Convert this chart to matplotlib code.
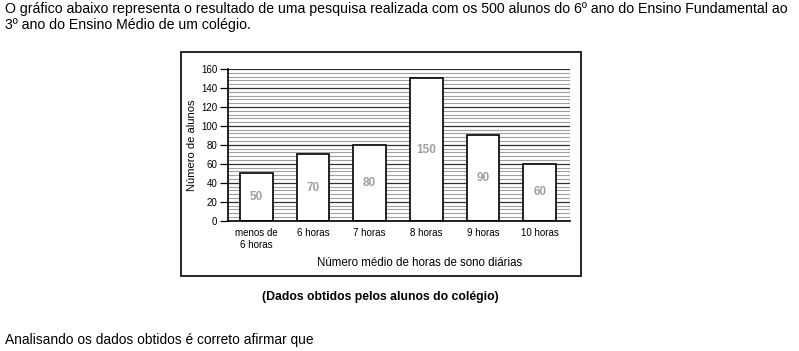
import matplotlib
matplotlib.use("Agg")
import matplotlib.pyplot as plt
from matplotlib.patches import Rectangle
from matplotlib.ticker import MultipleLocator

plt.rcParams['font.family'] = ['Liberation Sans', 'DejaVu Sans']

categories = ["menos de\n6 horas", "6 horas", "7 horas", "8 horas", "9 horas", "10 horas"]
values = [50, 70, 80, 150, 90, 60]
yticks = [0, 20, 40, 60, 80, 100, 120, 140, 160]

W, H = 799, 351
fig = plt.figure(figsize=(W / 100, H / 100), dpi=100)

def fx(px):
    return px / W

def fy(py):
    return 1 - py / H

# header text
fig.text(fx(5), fy(13), "O gráfico abaixo representa o resultado de uma pesquisa realizada com os 500 alunos do 6º ano do Ensino Fundamental ao",
         fontsize=10.15, va='baseline', ha='left')
fig.text(fx(5), fy(28.5), "3º ano do Ensino Médio de um colégio.",
         fontsize=10.15, va='baseline', ha='left')

# frame box
box = Rectangle((fx(180.7), fy(275.7)), fx(581.3) - fx(180.7), fy(52.3) - fy(275.7),
                transform=fig.transFigure, fill=False, edgecolor='black', linewidth=1.2)
fig.add_artist(box)

ax = fig.add_axes([fx(227.7), fy(220.7), fx(570) - fx(227.7), fy(69) - fy(220.7)])
x = list(range(len(categories)))
bars = ax.bar(x, values, width=0.575, color='white', edgecolor='black', linewidth=1.2, zorder=3)
for xi, v in zip(x, values):
    ax.text(xi, v / 2, str(v), ha='center', va='center', fontsize=8.5, fontweight='bold',
            color='#a0a0a0', zorder=4)

ax.set_xlim(-0.503, 5.535)
ax.set_ylim(0, 160)
ax.set_yticks(yticks)
ax.yaxis.set_minor_locator(MultipleLocator(4))
ax.grid(axis='y', which='major', color='#303030', linewidth=0.9, zorder=1)
ax.grid(axis='y', which='minor', color='#a0a0a0', linewidth=0.8, zorder=1)
ax.tick_params(axis='y', which='major', length=6, width=0.9, labelsize=7, pad=1.5, direction='out')
ax.tick_params(axis='y', which='minor', length=0)
ax.set_xticks(x)
ax.set_xticklabels(categories, fontsize=7, linespacing=1.3)
ax.tick_params(axis='x', length=0, pad=5)
for s in ['top', 'right']:
    ax.spines[s].set_visible(False)
ax.spines['left'].set_linewidth(1.2)
ax.spines['bottom'].set_linewidth(1.2)
ax.spines['left'].set_zorder(5)
ax.spines['bottom'].set_zorder(5)

fig.text(fx(192), fy(145), "Número de alunos", rotation=90, fontsize=8, ha='center', va='center')
fig.text(fx(420), fy(263), "Número médio de horas de sono diárias", fontsize=8.3, ha='center', va='center')

fig.text(fx(380), fy(297), "(Dados obtidos pelos alunos do colégio)", fontsize=8.8, fontweight='bold',
         ha='center', va='center')
fig.text(fx(5), fy(344), "Analisando os dados obtidos é correto afirmar que", fontsize=9.9,
         ha='left', va='baseline')

fig.savefig("out.png", dpi=100)
